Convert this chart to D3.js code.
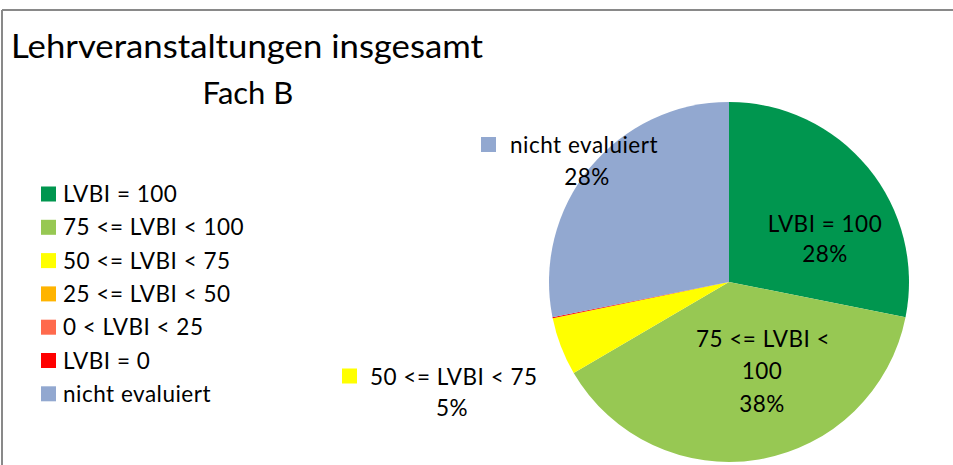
<!DOCTYPE html>
<html>
<head>
<meta charset="utf-8">
<script src="https://cdn.jsdelivr.net/npm/d3@7"></script>
<style>
  html, body { margin: 0; padding: 0; background: #fff; }
  svg { display: block; }
</style>
</head>
<body>
<svg id="chart"></svg>
<script>
// Pie of course evaluations, Excel-style layout
const categories = ["LVBI = 100", "75 <= LVBI < 100", "50 <= LVBI < 75", "25 <= LVBI < 50", "0 < LVBI < 25", "LVBI = 0", "nicht evaluiert"];
const shares = [28.1, 38.4, 5.2, 0, 0, 0.1, 28.1];
const colors = ["#00964f", "#97c853", "#ffff00", "#ffb400", "#ff6a4d", "#ff0000", "#92a8d0"];

(function () {
  const W = 953, H = 465;
  const FONT = "Lato, 'Open Sans', sans-serif";
  const INK = "#000";
  const FS = 22.5;
  const LS = "0.5px";

  const svg = d3.select("#chart").attr("width", W).attr("height", H);

  // chart frame (only top + left visible in the crop)
  svg.append("line").attr("x1", 2).attr("x2", W).attr("y1", 10).attr("y2", 10)
    .attr("stroke", "#898989").attr("stroke-width", 2);
  svg.append("line").attr("x1", 2).attr("x2", 2).attr("y1", 10).attr("y2", H)
    .attr("stroke", "#898989").attr("stroke-width", 2);

  // title
  svg.append("text").attr("x", 11).attr("y", 58)
    .attr("font-family", FONT).attr("font-size", 32).attr("fill", INK)
    .attr("textLength", 472).attr("lengthAdjust", "spacingAndGlyphs")
    .text("Lehrveranstaltungen insgesamt");
  svg.append("text").attr("x", 248).attr("y", 104)
    .attr("font-family", FONT).attr("font-size", 31).attr("fill", INK)
    .attr("text-anchor", "middle")
    .text("Fach B");

  // legend
  const legend = svg.append("g").attr("transform", "translate(41,194)");
  categories.forEach((c, i) => {
    const row = legend.append("g").attr("transform", `translate(0,${i * 33.3})`);
    row.append("rect").attr("x", 0).attr("y", -7.5).attr("width", 15).attr("height", 15)
      .attr("fill", colors[i]);
    row.append("text").attr("x", 22).attr("y", 0).attr("dy", "0.36em")
      .attr("font-family", FONT).attr("font-size", FS).attr("letter-spacing", LS).attr("fill", INK)
      .text(c);
  });

  // pie
  const cx = 729, cy = 282, R = 180;
  const data = categories.map((c, i) => ({ name: c, value: shares[i], color: colors[i], i }));
  const pie = d3.pie().value(d => d.value).sort(null);
  const arc = d3.arc().innerRadius(0).outerRadius(R);
  const arcs = pie(data);

  const g = svg.append("g").attr("transform", `translate(${cx},${cy})`);
  g.selectAll("path").data(arcs).enter().append("path")
    .attr("d", arc)
    .attr("fill", d => d.data.color);

  const total = d3.sum(shares);
  const pct = v => Math.round(v / total * 100) + "%";

  function textLine(x, y, str, anchor) {
    svg.append("text").attr("x", x).attr("y", y).attr("dy", "0.36em")
      .attr("font-family", FONT).attr("font-size", FS).attr("letter-spacing", LS).attr("fill", INK)
      .attr("text-anchor", anchor || "middle")
      .text(str);
  }

  // labels (Excel "best fit" positions)
  textLine(825, 224, categories[0]);
  textLine(825, 254, pct(shares[0]));

  textLine(763, 339, "75 <= LVBI <");
  textLine(762, 371, "100");
  textLine(762, 404, pct(shares[1]));

  svg.append("rect").attr("x", 342).attr("y", 368.5).attr("width", 15).attr("height", 15).attr("fill", colors[2]);
  textLine(370, 377, categories[2], "start");
  textLine(452, 408, pct(shares[2]));

  svg.append("rect").attr("x", 481).attr("y", 137).attr("width", 15).attr("height", 15).attr("fill", colors[6]);
  textLine(510, 144.5, categories[6], "start");
  textLine(587, 177, pct(shares[6]));
})();
</script>
</body>
</html>
